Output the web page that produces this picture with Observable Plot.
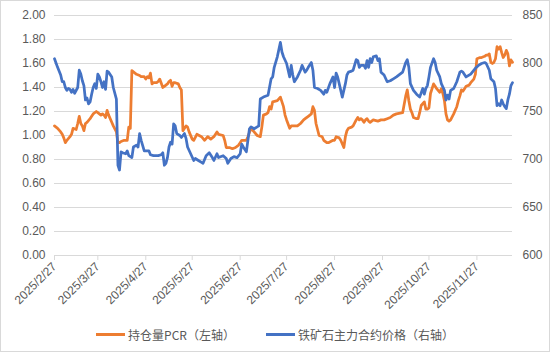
<!DOCTYPE html>
<html>
<head>
<meta charset="utf-8">
<script src="https://cdn.jsdelivr.net/npm/d3@7"></script>
<script src="https://cdn.jsdelivr.net/npm/@observablehq/plot@0.6"></script>
<style>
html, body { margin: 0; padding: 0; background: #fff; }
#wrap { position: relative; width: 550px; height: 352px; overflow: hidden; background: #fff;
  font-family: "Liberation Sans", "Noto Sans CJK SC", sans-serif; }
#chart { position: absolute; left: 0; top: 0; }
#frame { position: absolute; left: 0; top: 0; width: 550px; height: 352px; box-sizing: border-box;
  border: 1px solid #d9d9d9; pointer-events: none; }
#legend { position: absolute; left: 0; top: 325px; width: 550px; height: 18px; display: flex;
  justify-content: center; align-items: center; font-family: "Noto Sans CJK SC", sans-serif;
  font-size: 12px; color: #595959; }
#legend .item { display: flex; align-items: center; }
#legend .sw { width: 29px; height: 3px; margin-right: 3px; }
</style>
</head>
<body>
<div id="wrap">
  <div id="chart"></div>
  <div id="legend"></div>
  <div id="frame"></div>
</div>
<script>
const YEAR = 2025;
const seriesNames = ["持仓量PCR（左轴）", "铁矿石主力合约价格（右轴）"];
const seriesColors = ["#ED7D31", "#4472C4"];
const xTickLabels = ["2/27","3/27","4/27","5/27","6/27","7/27","8/27","9/27","10/27","11/27"];
const leftTicks = [0,0.2,0.4,0.6,0.8,1.0,1.2,1.4,1.6,1.8,2.0];
const rightTicks = [600,650,700,750,800,850];

// 持仓量PCR（左轴）
const pcrDates = [
 "2/27",
 "3/1","3/3","3/4","3/5","3/6","3/7","3/9","3/10","3/11","3/13","3/14","3/15","3/16","3/17","3/18","3/19","3/20","3/22","3/23","3/24","3/26","3/27","3/29","3/30","3/31",
 "4/1","4/2","4/3","4/5","4/6","4/8","4/9","4/10","4/11","4/13","4/15","4/16","4/17","4/18","4/19","4/21","4/23","4/24","4/26","4/27","4/28","4/29","4/30",
 "5/1","5/2","5/4","5/5","5/6","5/8","5/9","5/10","5/11","5/12","5/13","5/14","5/15","5/16","5/18","5/19","5/20","5/21","5/22","5/23","5/24","5/25","5/27","5/28","5/30",
 "6/2","6/4","6/6","6/8","6/10","6/12","6/13","6/16","6/17","6/18","6/20","6/22","6/24","6/26","6/27","6/28",
 "7/1","7/2","7/4","7/6","7/8","7/10","7/11","7/12","7/14","7/15","7/16","7/17","7/18","7/21","7/23","7/24","7/25","7/26","7/27","7/29","7/30","7/31",
 "8/2","8/3","8/5","8/7","8/8","8/10","8/12","8/13","8/14","8/15","8/17","8/19","8/20","8/22","8/23","8/26","8/27","8/28","8/30","8/31",
 "9/2","9/3","9/4","9/5","9/7","9/8","9/10","9/11","9/12","9/13","9/14","9/15","9/16","9/17","9/18","9/19","9/21","9/24","9/26","9/28","9/30",
 "10/2","10/4","10/6","10/10","10/11","10/12","10/13","10/14","10/15","10/16","10/17","10/19","10/20","10/21","10/22","10/24","10/25","10/26","10/27","10/28","10/30","10/31",
 "11/1","11/3","11/4","11/5","11/6","11/7","11/8","11/9","11/10","11/12","11/13","11/14","11/15","11/16","11/17","11/18","11/19","11/20","11/22","11/23","11/25","11/26","11/27","11/29","11/30",
 "12/2","12/3","12/4","12/5","12/6","12/7","12/8","12/9","12/10","12/11","12/12","12/13","12/14","12/15","12/16","12/17","12/18","12/19","12/20"
];
const pcrValues = [
 1.08,
 1.06,1.03,1.01,0.98,0.94,0.96,0.99,1.01,1.06,1.05,1.10,1.16,1.10,1.08,1.04,1.10,1.11,1.14,1.16,1.18,1.20,1.19,1.17,1.18,1.17,
 1.15,1.21,1.17,1.11,1.08,1.03,0.94,0.94,0.95,0.96,0.96,1.07,1.06,1.54,1.53,1.51,1.50,1.49,1.49,1.47,1.49,1.48,1.52,
 1.43,1.44,1.44,1.45,1.47,1.40,1.41,1.42,1.43,1.45,1.46,1.41,1.44,1.44,1.43,1.40,1.38,1.04,1.06,1.08,1.07,1.03,0.97,0.96,1.01,
 0.99,0.96,0.99,0.97,0.99,1.03,1.01,1.00,0.96,0.90,0.90,0.89,0.90,0.92,0.94,0.96,
 0.96,0.99,1.06,1.03,1.00,0.99,1.07,1.17,1.18,1.19,1.24,1.22,1.28,1.29,1.32,1.28,1.24,1.17,1.13,1.06,1.08,1.08,
 1.08,1.08,1.10,1.13,1.14,1.16,1.18,1.24,1.21,1.10,1.00,0.99,0.96,0.94,0.94,0.96,0.96,0.99,0.98,0.96,
 0.90,0.99,1.04,1.06,1.07,1.08,1.13,1.15,1.13,1.14,1.13,1.11,1.13,1.14,1.12,1.11,1.13,1.12,1.13,1.13,1.14,
 1.15,1.17,1.18,1.19,1.26,1.33,1.38,1.29,1.22,1.19,1.15,1.14,1.14,1.19,1.25,1.28,1.22,1.22,1.23,1.35,1.43,1.41,
 1.39,1.36,1.39,1.35,1.29,1.18,1.13,1.12,1.13,1.18,1.21,1.24,1.29,1.33,1.38,1.37,1.39,1.41,1.42,1.44,1.47,1.51,1.64,1.65,1.65,
 1.66,1.67,1.67,1.68,1.61,1.60,1.61,1.64,1.74,1.72,1.74,1.69,1.65,1.67,1.71,1.68,1.58,1.63,1.61
];

// 铁矿石主力合约价格（右轴）
const priceDates = [
 "2/27",
 "3/1","3/3","3/4","3/5","3/6","3/7","3/8","3/9","3/10","3/11","3/12","3/14","3/15","3/16","3/17","3/18","3/19","3/20","3/21","3/22","3/23","3/24","3/25","3/26","3/27","3/28","3/29","3/30","3/31",
 "4/1","4/2","4/3","4/5","4/6","4/8","4/9","4/10","4/11","4/12","4/14","4/15","4/16","4/18","4/19","4/21","4/22","4/23","4/24","4/26","4/27","4/29","4/30",
 "5/2","5/5","5/7","5/8","5/9","5/10","5/11","5/12","5/13","5/14","5/15","5/16","5/17","5/19","5/20","5/21","5/22","5/23","5/24","5/26","5/28","5/29","5/31",
 "6/2","6/3","6/5","6/7","6/9","6/10","6/12","6/13","6/16","6/18","6/19","6/21","6/23","6/25","6/27","6/28","6/29",
 "7/1","7/3","7/4","7/6","7/8","7/9","7/10","7/12","7/15","7/17","7/18","7/19","7/21","7/23","7/24","7/25","7/27","7/29","7/30","7/31",
 "8/1","8/3","8/5","8/6","8/8","8/9","8/10","8/12","8/13","8/14","8/16","8/18","8/20","8/21","8/22","8/24","8/26","8/27","8/28","8/29","8/30",
 "9/1","9/2","9/3","9/4","9/5","9/7","9/8","9/10","9/11","9/12","9/13","9/15","9/16","9/17","9/18","9/19","9/20","9/21","9/23","9/24","9/25","9/26","9/28","9/30",
 "10/2","10/4","10/6","10/10","10/12","10/13","10/14","10/15","10/17","10/19","10/21","10/23","10/24","10/25","10/26","10/27","10/28","10/30","10/31",
 "11/1","11/3","11/4","11/6","11/7","11/8","11/9","11/10","11/12","11/14","11/16","11/17","11/18","11/20","11/23","11/26","11/28","11/30",
 "12/2","12/3","12/5","12/6","12/8","12/9","12/10","12/11","12/12","12/13","12/14","12/15","12/16","12/17","12/18","12/19","12/20"
];
const priceValues = [
 805,
 796,788,781,781,775,772,774,773,770,773,769,775,793,789,782,777,762,764,758,760,768,775,779,774,789,786,781,775,781,
 773,792,791,786,775,763,694,689,708,707,706,709,704,702,713,715,713,727,720,709,709,709,705,
 704,704,705,707,694,696,702,713,718,716,737,735,727,725,723,725,727,722,713,706,699,701,699,
 697,696,704,707,702,699,706,702,704,701,696,701,703,702,706,716,713,
 708,732,734,732,734,735,763,765,767,784,786,796,807,822,812,807,800,786,798,788,
 781,786,793,798,791,793,796,801,793,775,774,772,768,772,770,779,786,775,790,786,779,
 765,772,779,788,791,792,793,804,803,796,798,798,795,803,796,805,801,807,808,803,805,791,788,781,
 782,784,786,791,801,804,796,779,772,768,765,774,768,774,777,786,796,805,801,
 793,786,779,772,762,767,763,772,774,781,791,792,791,786,789,795,798,800,
 801,800,793,784,781,774,756,758,756,762,758,755,753,762,768,777,780
];

const parseMD = s => { const [m, d] = s.split("/").map(Number); return new Date(YEAR, m - 1, d); };
const pcr = pcrDates.map((s, i) => ({date: parseMD(s), value: pcrValues[i]}));
const price = priceDates.map((s, i) => ({date: parseMD(s), value: priceValues[i]}));

// map right-axis values (price) onto the left-axis range
const rightToLeft = d3.scaleLinear([rightTicks[0], rightTicks[rightTicks.length - 1]], [leftTicks[0], leftTicks[leftTicks.length - 1]]);
const xTicks = xTickLabels.map(parseMD);

const chart = Plot.plot({
  width: 550,
  height: 322,
  marginLeft: 54,
  marginRight: 38,
  marginTop: 15,
  marginBottom: 67,
  style: {fontFamily: '"Liberation Sans", "Noto Sans CJK SC", sans-serif', fontSize: "12px", color: "#595959", background: "transparent"},
  x: {type: "time", domain: [parseMD("2/27"), parseMD("12/20")]},
  y: {domain: [0, 2]},
  marks: [
    Plot.gridY(leftTicks, {stroke: "#d9d9d9", strokeOpacity: 1, strokeWidth: 1}),
    Plot.axisY(leftTicks, {anchor: "left", tickSize: 0, tickPadding: 9, tickFormat: d3.format(".2f"), fill: "#595959", label: null, fontSize: 12}),
    Plot.axisY(rightTicks.map(rightToLeft), {anchor: "right", tickSize: 0, tickPadding: 10, tickFormat: d => String(Math.round(rightToLeft.invert(d))), fill: "#595959", label: null, fontSize: 12}),
    Plot.ruleY([0], {stroke: "#d9d9d9", strokeWidth: 1}),
    Plot.axisX(xTicks, {anchor: "bottom", tickSize: 5, tickPadding: 4, tickRotate: -45, textAnchor: "end", lineAnchor: "middle",
      tickFormat: d => `${d.getFullYear()}/${d.getMonth() + 1}/${d.getDate()}`, stroke: "#d9d9d9", fill: "#595959", label: null, fontSize: 12}),
    Plot.line(pcr, {x: "date", y: "value", stroke: seriesColors[0], strokeWidth: 2.75, strokeLinejoin: "round", strokeLinecap: "round"}),
    Plot.line(price, {x: "date", y: d => rightToLeft(d.value), stroke: seriesColors[1], strokeWidth: 2.75, strokeLinejoin: "round", strokeLinecap: "round"})
  ]
});
document.getElementById("chart").appendChild(chart);

const legend = document.getElementById("legend");
seriesNames.forEach((name, i) => {
  const item = document.createElement("div");
  item.className = "item";
  if (i > 0) item.style.marginLeft = "31px";
  const sw = document.createElement("div");
  sw.className = "sw";
  sw.style.background = seriesColors[i];
  const label = document.createElement("span");
  label.textContent = name;
  item.appendChild(sw);
  item.appendChild(label);
  legend.appendChild(item);
});
</script>
</body>
</html>
